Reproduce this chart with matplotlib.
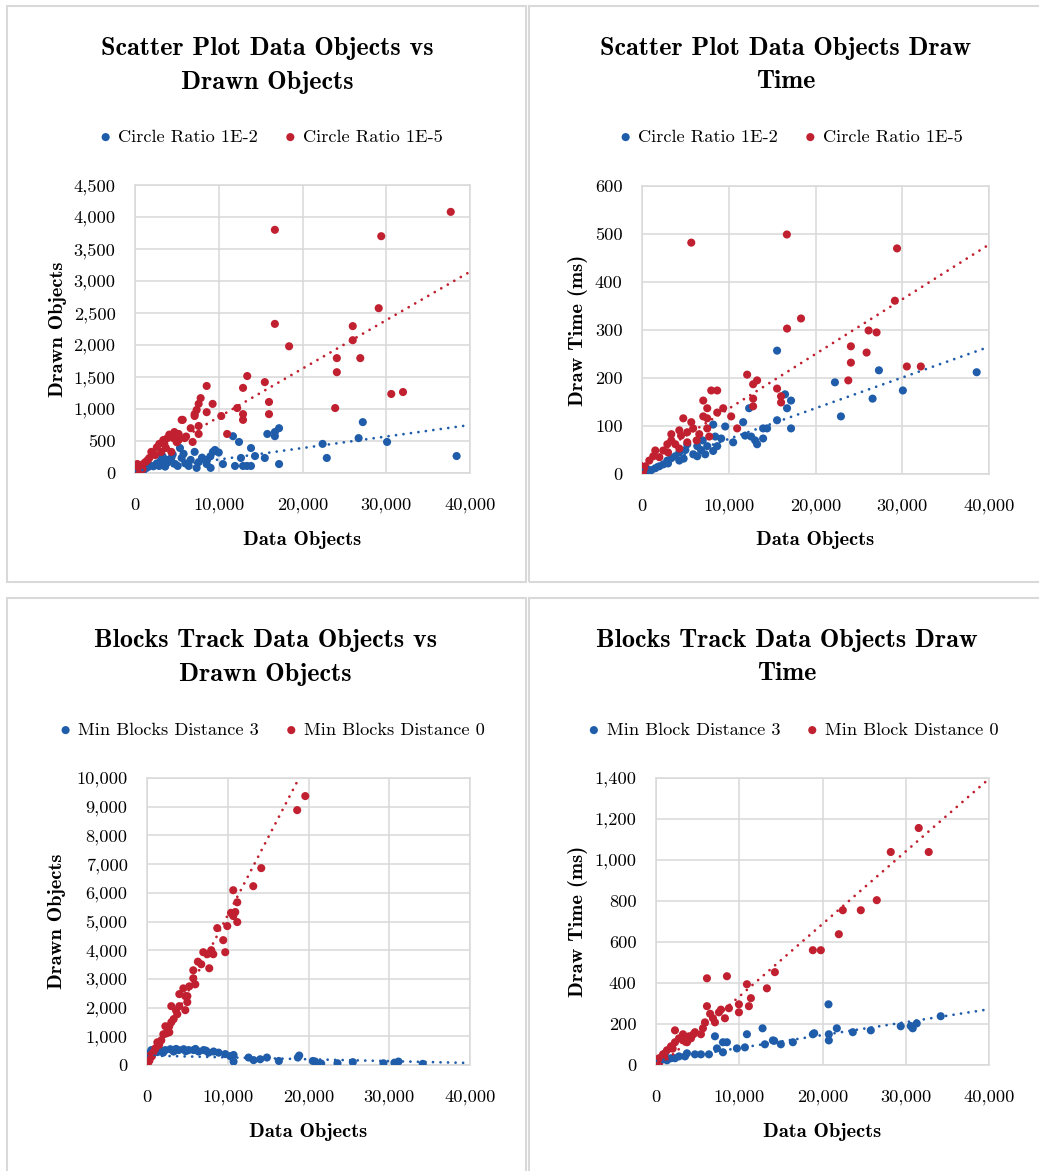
import matplotlib
matplotlib.use("Agg")
import matplotlib.pyplot as plt
from matplotlib.patches import Rectangle
from matplotlib.ticker import FuncFormatter, MultipleLocator
import numpy as np

plt.rcParams['font.family'] = ['cmr10', 'DejaVu Serif']
plt.rcParams['axes.formatter.use_mathtext'] = True
plt.rcParams['axes.unicode_minus'] = False

W, H = 1039, 1171
BLUE = '#1F5CA9'
RED = '#C0202F'
GRID = '#D9D9D9'

# ---------------- data ----------------
# Scatter plot: data objects vs drawn objects
sp_drawn_blue_x = [27200, 26700, 30100, 22400, 22900, 38400, 17200, 16700, 16700, 15800, 17200, 15500, 13850, 14330,
                   13370, 13850, 12900, 12650, 11940, 12420, 11700, 10500, 9550, 9300, 9030, 8560, 8560, 7600, 7120,
                   7360, 6650, 6410, 5570, 5370, 4340, 3780, 3380, 2190, 1390, 800, 200, 4800, 5100, 3100, 2600, 2900,
                   3600, 4000, 1800, 6000, 600, 1000, 9000, 8000, 5800, 4500, 3300, 10000]
sp_drawn_blue_y = [795, 545, 485, 455, 235, 265, 700, 640, 575, 610, 140, 235, 390, 265,
                   110, 110, 110, 235, 110, 485, 575, 140, 360, 330, 80, 205, 140, 170, 330,
                   80, 205, 110, 235, 390, 235, 205, 155, 105, 80, 50, 25, 140, 110, 200, 150, 110,
                   100, 170, 120, 150, 20, 40, 260, 240, 300, 290, 260, 320]
sp_drawn_red_x = [16700, 29400, 37700, 16700, 18400, 29100, 26000, 26000, 24100, 26900, 24100, 23900, 30600, 32000,
                  15500, 16000, 16000, 13400, 12900, 12200, 12900, 12900, 10300, 11000, 8560, 7840, 7600, 9270, 8560,
                  7360, 7120, 7120, 7600, 7600, 6650, 5570, 5700, 6880, 5930, 5210, 4580, 5210, 3860, 3380, 2900,
                  3500, 4340, 3140, 1950, 1710, 1230, 760, 280, 280, 500, 900, 1500, 2400, 2600, 3700, 4100, 4700,
                  6100, 5000, 200, 100]
sp_drawn_red_y = [3800, 3700, 4080, 2330, 1980, 2575, 2295, 2075, 1795, 1795, 1575, 1015, 1235, 1265,
                  1420, 1110, 920, 1515, 1330, 1015, 920, 830, 890, 610, 1360, 1170, 1080, 1080, 950,
                  985, 920, 890, 735, 610, 700, 830, 830, 485, 545, 610, 545, 515, 545, 515, 455,
                  455, 330, 330, 330, 235, 170, 110, 25, 140, 5, 60, 200, 280, 400, 390, 600, 640,
                  570, 480, 60, 20]
sp_drawn_trend_blue = (30, 0.0180)    # intercept, slope
sp_drawn_trend_red = (117, 0.0757)

# Scatter plot: data objects vs draw time
sp_time_blue_x = [15570, 16490, 16720, 17180, 17180, 15570, 22240, 22930, 27310, 26580, 30070, 38580, 12350, 11660,
                  9590, 8210, 10510, 11890, 12580, 13040, 13270, 13960, 14420, 13960, 8440, 9130, 8670, 7520, 7290,
                  6370, 6370, 5910, 5220, 4300, 4300, 3840, 3380, 2920, 2450, 1990, 1530, 1070, 610, 230, 5000,
                  6800, 3000, 4800, 7000, 8200]
sp_time_blue_y = [257, 166, 137, 153, 95, 112, 191, 120, 216, 157, 174, 212, 137, 108,
                  99, 103, 66, 80, 78, 70, 62, 95, 95, 74, 78, 74, 58, 58, 41,
                  58, 37, 41, 62, 45, 28, 37, 33, 28, 20, 16, 12, 8, 5, 3, 50,
                  50, 22, 32, 70, 48]
sp_time_red_x = [5680, 16700, 29400, 29150, 18330, 16720, 24080, 24080, 23780, 26120, 27040, 25890, 30530, 32140,
                 15570, 16030, 16030, 12120, 12810, 13270, 12810, 12810, 10280, 10970, 7980, 8670, 7060, 7520, 8670,
                 9360, 7060, 7520, 7520, 7750, 6600, 5680, 4760, 4300, 5220, 5220, 3380, 3380, 2920, 2450, 1530,
                 1300, 840, 380, 150, 80, 4300, 3840, 5900, 4500, 6300, 2000, 3000]
sp_time_red_y = [482, 499, 470, 361, 324, 303, 266, 232, 195, 299, 295, 253, 224, 224,
                 178, 162, 149, 207, 187, 195, 157, 141, 120, 95, 174, 174, 153, 137, 128,
                 137, 120, 116, 95, 78, 83, 108, 116, 91, 87, 66, 83, 70, 62, 49, 49,
                 37, 28, 16, 8, 3, 53, 62, 95, 80, 70, 35, 45]
sp_time_trend_blue = (9, 0.0064)
sp_time_trend_red = (22, 0.0114)

# Blocks track: data objects vs drawn objects
bt_drawn_blue_x = [40, 290, 540, 1030, 1650, 2270, 2890, 3300, 3920, 4540, 5160, 5770, 6390, 7010, 7630, 8250,
                   8870, 9690, 10310, 10720, 10720, 12580, 13200, 14020, 14850, 16330, 18680, 18850, 20540, 20830,
                   21570, 23590, 25490, 29280, 30640, 31140, 34150, 1300, 2000, 3600, 4800, 6000, 7300, 150, 600]
bt_drawn_blue_y = [120, 410, 520, 520, 500, 520, 550, 470, 520, 550, 520, 520, 470, 520, 430, 470,
                   430, 380, 310, 350, 120, 260, 170, 200, 260, 140, 260, 330, 140, 120,
                   50, 60, 100, 60, 80, 120, 40, 450, 430, 560, 480, 560, 500, 200, 350]
bt_drawn_red_x = [19600, 18600, 14150, 13160, 10680, 11180, 10930, 10680, 11180, 9940, 8700, 9440, 9690, 7960,
                  6970, 7460, 8210, 7710, 6720, 5730, 5730, 5980, 5240, 4500, 4740, 4000, 4990, 4000, 4740, 3750,
                  3010, 3010, 2760, 2270, 2760, 2020, 1770, 1280, 1030, 780, 410, 170, 0, 100, 300, 600, 1500,
                  2400, 3300, 3600, 5000, 6300, 8000, 10400]
bt_drawn_red_y = [9370, 8880, 6860, 6230, 6090, 5670, 5330, 5190, 4980, 4840, 4770, 4350, 3930, 4000,
                  3930, 3860, 3860, 3370, 3510, 3300, 3020, 2810, 2740, 2670, 2400, 2470, 2190, 2050, 1910, 1770,
                  2050, 1490, 1350, 1350, 1140, 1070, 860, 790, 580, 440, 330, 230, 20, 80, 150, 300, 700,
                  1100, 1600, 1900, 2400, 3600, 3900, 5300]
bt_drawn_trend_blue = (330, -0.0065)
bt_drawn_trend_red = (-190, 0.541)

# Blocks track: data objects vs draw time
bt_time_blue_x = [20720, 12800, 21720, 34200, 29400, 30840, 31320, 25800, 23640, 18840, 20760, 20760, 16440, 15000,
                  14040, 13080, 10920, 10680, 9720, 8520, 8040, 7080, 7320, 8040, 6360, 5400, 4680, 3720, 3480,
                  2760, 2280, 1800, 1320, 1080, 600, 120, 30600, 19000, 14200]
bt_time_blue_y = [296, 179, 179, 238, 189, 179, 203, 169, 160, 150, 150, 120, 111, 101,
                  120, 101, 150, 86, 81, 111, 111, 140, 81, 62, 52, 52, 52, 57, 42,
                  42, 33, 33, 23, 57, 23, 13, 190, 155, 118]
bt_time_red_x = [31560, 28200, 32760, 26520, 24600, 22440, 21960, 18840, 19800, 14280, 13320, 10920, 11400, 11160,
                 9960, 9960, 8520, 6120, 6120, 8760, 7560, 8280, 6840, 7080, 5880, 5640, 5400, 4680, 4200, 3240,
                 3240, 2280, 2280, 2760, 1800, 1320, 840, 360, 120, 0, 3720, 3960, 4500, 2000, 1000, 6500, 7800]
bt_time_red_y = [1156, 1039, 1039, 804, 755, 755, 638, 560, 560, 453, 374, 394, 326, 287,
                 296, 257, 433, 423, 287, 277, 257, 228, 228, 208, 208, 179, 150, 160, 130, 150,
                 120, 169, 111, 130, 91, 72, 52, 33, 13, 3, 111, 140, 150, 80, 40, 250, 270]
bt_time_trend_blue = (20, 0.0063)
bt_time_trend_red = (-20, 0.0354)

panels = [
    dict(title="Scatter Plot Data Objects vs\nDrawn Objects", ylabel="Drawn Objects",
         leg=("Circle Ratio 1E-2", "Circle Ratio 1E-5"),
         bx=sp_drawn_blue_x, by=sp_drawn_blue_y, rx=sp_drawn_red_x, ry=sp_drawn_red_y,
         tb=sp_drawn_trend_blue, tr=sp_drawn_trend_red, ymax=4500, ystep=500,
         px=(135, 470, 185, 473), cx=267, ty=(48, 82), legy=137, legx=272, ylx=58, xly=540, box=(7, 526, 6, 582)),
    dict(title="Scatter Plot Data Objects Draw\nTime", ylabel="Draw Time (ms)",
         leg=("Circle Ratio 1E-2", "Circle Ratio 1E-5"),
         bx=sp_time_blue_x, by=sp_time_blue_y, rx=sp_time_red_x, ry=sp_time_red_y,
         tb=sp_time_trend_blue, tr=sp_time_trend_red, ymax=600, ystep=100,
         px=(642, 989, 186, 474), cx=786, ty=(48, 82), legy=137, legx=792, ylx=578, xly=540, box=(529, 1046, 6, 582)),
    dict(title="Blocks Track Data Objects vs\nDrawn Objects", ylabel="Drawn Objects",
         leg=("Min Blocks Distance 3", "Min Blocks Distance 0"),
         bx=bt_drawn_blue_x, by=bt_drawn_blue_y, rx=bt_drawn_red_x, ry=bt_drawn_red_y,
         tb=bt_drawn_trend_blue, tr=bt_drawn_trend_red, ymax=10000, ystep=1000,
         px=(147, 470, 778, 1065), cx=265, ty=(640, 674), legy=730, legx=273, ylx=57, xly=1132, box=(7, 526, 598, 1180)),
    dict(title="Blocks Track Data Objects Draw\nTime", ylabel="Draw Time (ms)",
         leg=("Min Block Distance 3", "Min Block Distance 0"),
         bx=bt_time_blue_x, by=bt_time_blue_y, rx=bt_time_red_x, ry=bt_time_red_y,
         tb=bt_time_trend_blue, tr=bt_time_trend_red, ymax=1400, ystep=200,
         px=(656, 989, 778, 1065), cx=787, ty=(640, 674), legy=730, legx=794, ylx=578, xly=1132, box=(529, 1046, 598, 1180)),
]

fig = plt.figure(figsize=(W / 100, H / 100), dpi=100)
fmt = FuncFormatter(lambda v, p: f"{v:,.0f}")

for p in panels:
    b = p['box']
    fig.patches.append(Rectangle((b[0] / W, 1 - b[3] / H), (b[1] - b[0]) / W, (b[3] - b[2]) / H,
                                 transform=fig.transFigure, fill=False, edgecolor=GRID, lw=1.5))
    l, r, t, bt = p['px']
    ax = fig.add_axes([l / W, 1 - bt / H, (r - l) / W, (bt - t) / H])
    ax.set_xlim(0, 40000)
    ax.set_ylim(0, p['ymax'])
    ax.xaxis.set_major_locator(MultipleLocator(10000))
    ax.yaxis.set_major_locator(MultipleLocator(p['ystep']))
    ax.xaxis.set_major_formatter(fmt)
    ax.yaxis.set_major_formatter(fmt)
    ax.grid(True, color=GRID, lw=1.1)
    ax.set_axisbelow(True)
    for s in ax.spines.values():
        s.set_color(GRID)
        s.set_linewidth(1.1)
    ax.tick_params(length=0, labelsize=13.2, colors='#000000')
    ax.tick_params(axis='x', pad=18)
    ax.tick_params(axis='y', pad=14)

    sb = ax.scatter(p['bx'], p['by'], s=34, color=BLUE, edgecolors='none', zorder=3, label=p['leg'][0])
    sr = ax.scatter(p['rx'], p['ry'], s=34, color=RED, edgecolors='none', zorder=3, label=p['leg'][1])
    xx = np.array([0, 40000])
    for (a0, a1), c in ((p['tb'], BLUE), (p['tr'], RED)):
        ax.plot(xx, a0 + a1 * xx, color=c, lw=2.0, linestyle=(0, (0.01, 2.7)),
                dash_capstyle='round', zorder=4)

    ax.set_ylabel(p['ylabel'], fontname='cmb10', fontsize=14.8, va='center')
    ax.yaxis.set_label_coords((p['ylx'] - l) / (r - l), 0.5)
    ax.set_xlabel("Data Objects", fontname='cmb10', fontsize=14.8, va='center')
    ax.xaxis.set_label_coords(0.5, -(p['xly'] - bt) / (bt - t))

    lines = p['title'].split("\n")
    for ln, yy in zip(lines, p['ty']):
        fig.text(p['cx'] / W, 1 - yy / H, ln, fontname='cmb10', fontsize=18.8, ha='center', va='center')

    ax.legend(handles=[sb, sr], loc='center', bbox_to_anchor=(p['legx'] / W, 1 - p['legy'] / H),
              bbox_transform=fig.transFigure, ncol=2, frameon=False, fontsize=13.2,
              handlelength=0.5, handletextpad=0.45, columnspacing=1.5, markerscale=1.0, borderpad=0)

fig.savefig("out.png", dpi=100)
